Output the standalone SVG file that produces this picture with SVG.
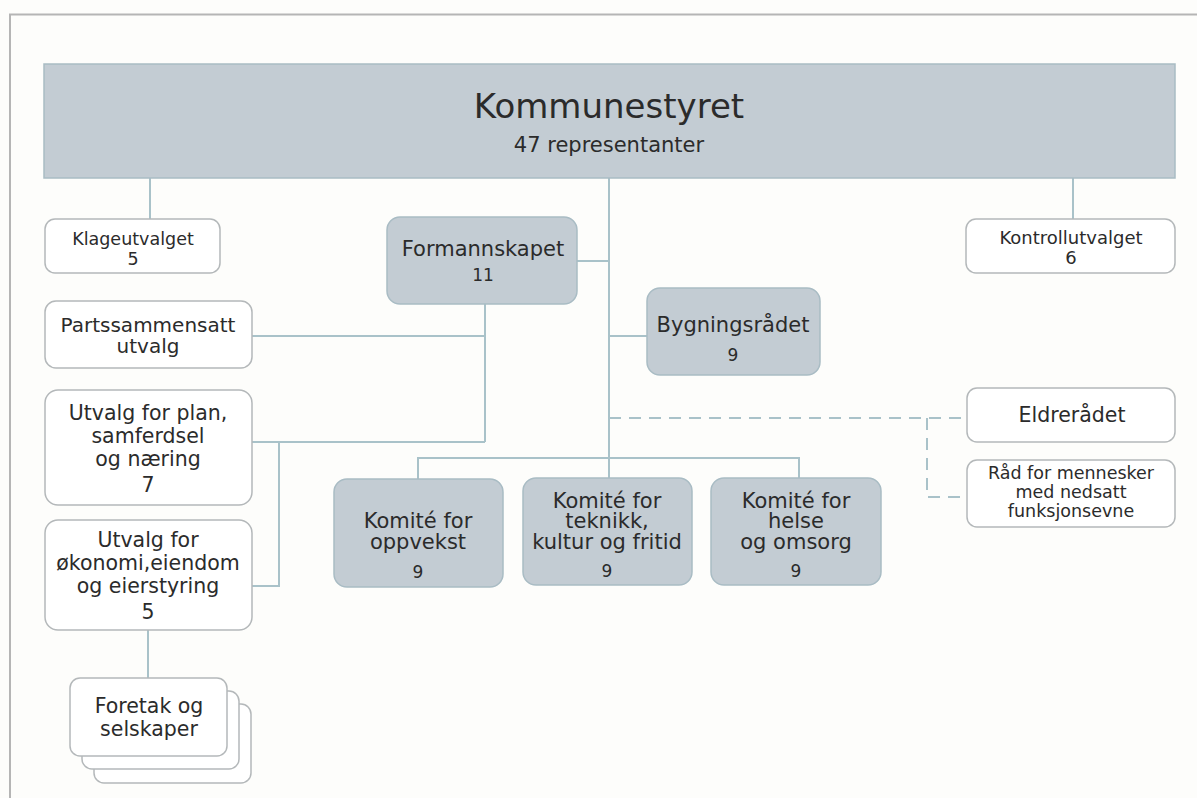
<svg xmlns="http://www.w3.org/2000/svg" width="1197" height="798" viewBox="0 0 1197 798">
<style>
.g{fill:#c3ccd3;stroke:#a9bcc4;stroke-width:1.5}
.w{fill:#ffffff;stroke:#b4b8ba;stroke-width:1.5}
.c{fill:none;stroke:#a9c2c9;stroke-width:2}
.d{fill:none;stroke:#a9c2c9;stroke-width:2;stroke-dasharray:12,8}
.t{font-family:"DejaVu Sans",Verdana,sans-serif;fill:#2b2b2b;text-anchor:middle}
.tw{font-family:"DejaVu Sans",Tahoma,sans-serif;fill:#2b2b2b;text-anchor:middle}
</style>
<rect x="0" y="0" width="1197" height="798" fill="#fdfdfb"/>
<path d="M9,14.5H1197M10,14V798" stroke="#b5b5b5" stroke-width="2" fill="none"/>
<g id="connectors">
<path class="c" d="M150,178V219M1073,178V219M609,178V479M568,261H609M609,336H647M485,304V442M252,336H485M252,442H485M279,442V586H252M418,479V458H799V478M148,630V678"/>
<path class="d" d="M609,418H965M927,418V497H965"/>
</g>
<g id="kommunestyret">
<rect class="g" x="44" y="64" width="1131" height="114"/>
<text class="t" x="609" y="118" font-size="34">Kommunestyret</text>
<text class="t" x="609" y="152" font-size="21">47 representanter</text>
</g>
<g id="klageutvalget">
<rect class="w" x="45" y="219" width="175" height="54" rx="10"/>
<text class="tw" x="133" y="245" font-size="17.5">Klageutvalget</text>
<text class="tw" x="133" y="265" font-size="17.5">5</text>
</g>
<g id="kontrollutvalget">
<rect class="w" x="966" y="219" width="209" height="54" rx="10"/>
<text class="tw" x="1071" y="244" font-size="18">Kontrollutvalget</text>
<text class="tw" x="1071" y="264" font-size="18">6</text>
</g>
<g id="formannskapet">
<rect class="g" x="387" y="217" width="190" height="87" rx="13"/>
<text class="t" x="483" y="256" font-size="21">Formannskapet</text>
<text class="t" x="483" y="281" font-size="17">11</text>
</g>
<g id="partssammensatt">
<rect class="w" x="45" y="301" width="207" height="67" rx="11"/>
<text class="tw" x="148" y="332" font-size="20">Partssammensatt</text>
<text class="tw" x="148" y="353" font-size="20">utvalg</text>
</g>
<g id="bygningsradet">
<rect class="g" x="647" y="288" width="173" height="87" rx="13"/>
<text class="t" x="733" y="332" font-size="21">Bygningsrådet</text>
<text class="t" x="733" y="361" font-size="17">9</text>
</g>
<g id="utvalg-plan">
<rect class="w" x="45" y="390" width="207" height="115" rx="13"/>
<text class="tw" x="148" y="420" font-size="20.5">Utvalg for plan,</text>
<text class="tw" x="148" y="443" font-size="20.5">samferdsel</text>
<text class="tw" x="148" y="466" font-size="20.5">og næring</text>
<text class="tw" x="148" y="492" font-size="20.5">7</text>
</g>
<g id="utvalg-okonomi">
<rect class="w" x="45" y="520" width="207" height="110" rx="13"/>
<text class="tw" x="148" y="547" font-size="20.5">Utvalg for</text>
<text class="tw" x="148" y="570" font-size="20.5">økonomi,eiendom</text>
<text class="tw" x="148" y="593" font-size="20.5">og eierstyring</text>
<text class="tw" x="148" y="619" font-size="20.5">5</text>
</g>
<g id="foretak">
<rect class="w" x="94" y="704" width="157" height="79" rx="10"/>
<rect class="w" x="82" y="691" width="157" height="78" rx="10"/>
<rect class="w" x="70" y="678" width="157" height="78" rx="10"/>
<text class="tw" x="149" y="713" font-size="20.5">Foretak og</text>
<text class="tw" x="149" y="736" font-size="20.5">selskaper</text>
</g>
<g id="eldreradet">
<rect class="w" x="967" y="388" width="208" height="54" rx="10"/>
<text class="tw" x="1072" y="422" font-size="20.5">Eldrerådet</text>
</g>
<g id="rad-nedsatt">
<rect class="w" x="967" y="460" width="208" height="67" rx="10"/>
<text class="tw" x="1071" y="479" font-size="17.5">Råd for mennesker</text>
<text class="tw" x="1071" y="498" font-size="17.5">med nedsatt</text>
<text class="tw" x="1071" y="517" font-size="17.5">funksjonsevne</text>
</g>
<g id="komite-oppvekst">
<rect class="g" x="334" y="479" width="169" height="108" rx="13"/>
<text class="t" x="418" y="528" font-size="21">Komité for</text>
<text class="t" x="418" y="549" font-size="21">oppvekst</text>
<text class="t" x="418" y="578" font-size="17">9</text>
</g>
<g id="komite-teknikk">
<rect class="g" x="523" y="478" width="169" height="107" rx="13"/>
<text class="t" x="607" y="508" font-size="21">Komité for</text>
<text class="t" x="607" y="528" font-size="21">teknikk,</text>
<text class="t" x="607" y="549" font-size="21">kultur og fritid</text>
<text class="t" x="607" y="577" font-size="17">9</text>
</g>
<g id="komite-helse">
<rect class="g" x="711" y="478" width="170" height="107" rx="13"/>
<text class="t" x="796" y="508" font-size="21">Komité for</text>
<text class="t" x="796" y="528" font-size="21">helse</text>
<text class="t" x="796" y="549" font-size="21">og omsorg</text>
<text class="t" x="796" y="577" font-size="17">9</text>
</g>
</svg>
